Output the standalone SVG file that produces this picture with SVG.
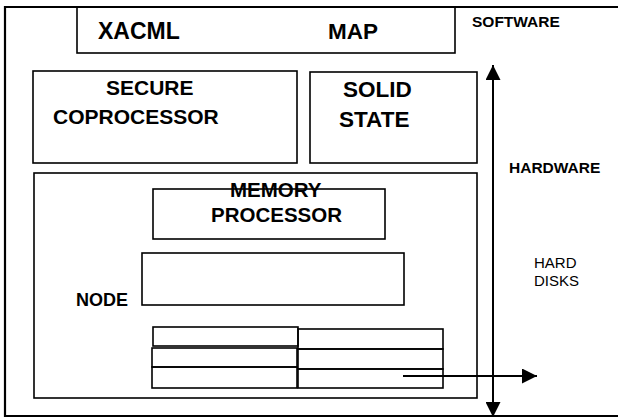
<svg xmlns="http://www.w3.org/2000/svg" width="618" height="417" viewBox="0 0 618 417">
<style>
.box{fill:none;stroke:#000;stroke-width:1.6}
.frame{fill:none;stroke:#000;stroke-width:2.2}
.cell{fill:none;stroke:#000;stroke-width:1.6}
.b{font-family:"Liberation Sans",Arial,sans-serif;font-weight:bold;fill:#000}
.r{font-family:"Liberation Sans",Arial,sans-serif;fill:#000}
.conn{stroke:#000;stroke-width:2;fill:none}
</style>
<defs>
<marker id="ah" viewBox="0 0 15 15" refX="15" refY="7.5" markerWidth="15" markerHeight="15" markerUnits="userSpaceOnUse" orient="auto-start-reverse">
<path d="M0,0 L15,7.5 L0,15 Z" fill="#000"/>
</marker>
</defs>
<rect width="618" height="417" fill="#fff"/>
<g id="frame">
<path class="frame" d="M618,7 H5 V416 H618"/>
</g>
<g id="software-box">
<rect class="box" x="77" y="7" width="378" height="46"/>
<text class="b" x="98" y="39" font-size="23">XACML</text>
<text class="b" x="328" y="39" font-size="22.5">MAP</text>
</g>
<g id="software-label">
<text class="b" x="472" y="27" font-size="15.5">SOFTWARE</text>
</g>
<g id="secure-coprocessor">
<rect class="box" x="33" y="71" width="264" height="92"/>
<text class="b" x="106" y="95" font-size="21">SECURE</text>
<text class="b" x="53" y="124" font-size="21">COPROCESSOR</text>
</g>
<g id="solid-state">
<rect class="box" x="310" y="72" width="167" height="91"/>
<text class="b" x="343" y="97" font-size="22.5">SOLID</text>
<text class="b" x="339" y="127" font-size="22.5">STATE</text>
</g>
<g id="node">
<rect class="box" x="34" y="173" width="443" height="225"/>
<text class="b" x="76" y="306" font-size="18">NODE</text>
</g>
<g id="memory-processor">
<text class="b" x="230" y="197" font-size="20.5">MEMORY</text>
<rect class="box" x="153" y="189" width="232" height="50"/>
<text class="b" x="211" y="222" font-size="20.5">PROCESSOR</text>
</g>
<g id="inner-box">
<rect class="box" x="142" y="253" width="262" height="52"/>
</g>
<g id="table">
<rect class="cell" x="153" y="327" width="145" height="19"/>
<rect class="cell" x="298" y="329" width="145" height="20"/>
<rect class="cell" x="152" y="348" width="145" height="19"/>
<rect class="cell" x="298" y="349" width="145" height="20"/>
<rect class="cell" x="152" y="367" width="145" height="21"/>
<rect class="cell" x="298" y="369" width="145" height="19"/>
</g>
<g id="labels">
<text class="b" x="509" y="173" font-size="15.5">HARDWARE</text>
<text class="r" x="534" y="268" font-size="15">HARD</text>
<text class="r" x="534" y="286" font-size="15">DISKS</text>
</g>
<g id="connectors">
<line class="conn" x1="493" y1="65" x2="493" y2="417" marker-start="url(#ah)" marker-end="url(#ah)"/>
<line class="conn" x1="403" y1="376" x2="537" y2="376" marker-end="url(#ah)"/>
</g>
</svg>
